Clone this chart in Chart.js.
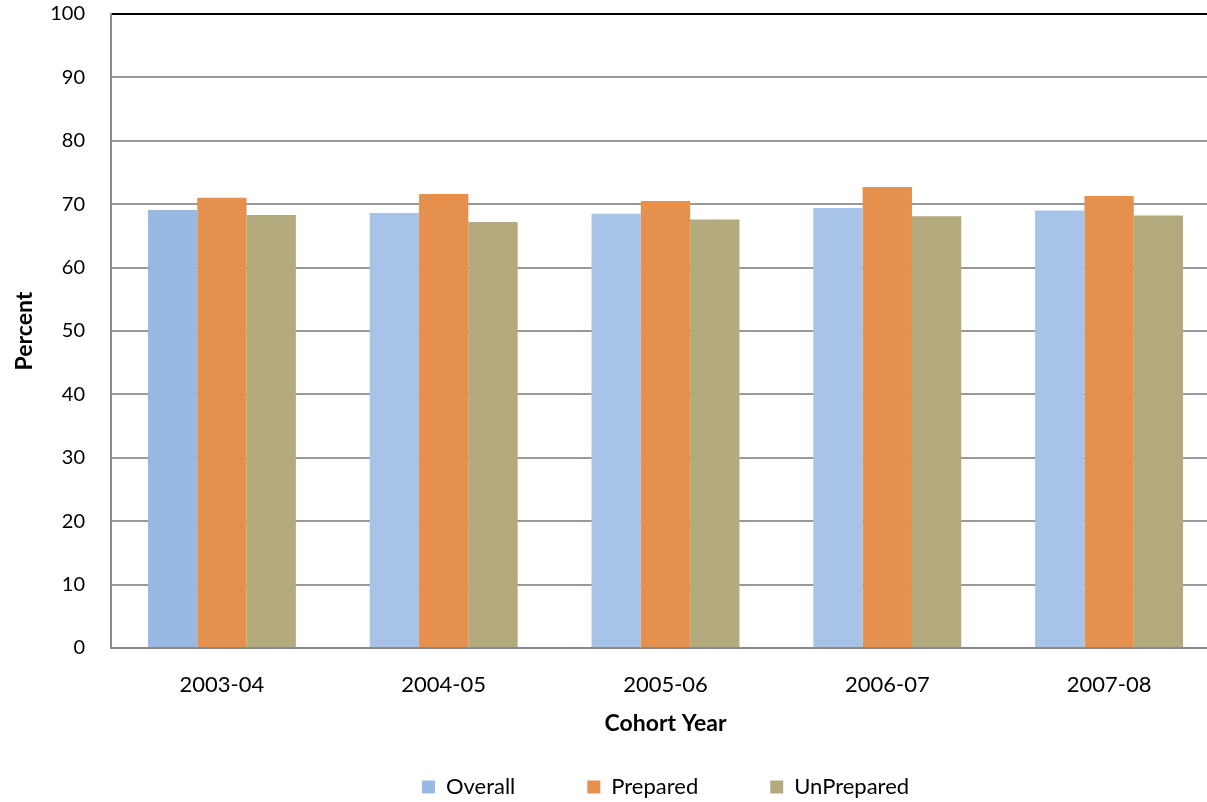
<!DOCTYPE html>
<html>
<head>
<meta charset="utf-8">
<script src="https://cdn.jsdelivr.net/npm/chart.js"></script>
<style>
  html, body { margin: 0; padding: 0; background: #fff; overflow: hidden; }
  #wrap { width: 1220px; height: 802px; }
</style>
</head>
<body>
<div id="wrap"><canvas id="cohortChart" width="1220" height="802"></canvas></div>
<script>
// values
const cohortYears = ['2003-04', '2004-05', '2005-06', '2006-07', '2007-08'];
const overall = [69.1, 68.6, 68.5, 69.4, 69.0];
const prepared = [71.0, 71.6, 70.5, 72.7, 71.3];
const unprepared = [68.3, 67.2, 67.6, 68.1, 68.2];
const yTicks = [0, 10, 20, 30, 40, 50, 60, 70, 80, 90, 100];

const FONT = 'Lato, "Open Sans", sans-serif';

// legend spacing is wide horizontally, so move it down after layout
const legendPlace = {
    id: 'legendPlace',
    afterLayout(chart) {
        const lg = chart.legend;
        const pad = chart.options.plugins.legend.labels.padding;
        lg.top = 787 - 11 - pad;
    }
};

const ctx = document.getElementById('cohortChart').getContext('2d');
const cohortChart = new Chart(ctx, {
    type: 'bar',
    data: {
        labels: cohortYears,
        datasets: [{
            label: 'Overall',
            data: overall,
            backgroundColor: ['#97b9e3', '#a7c4e8', '#a7c4e8', '#a7c4e8', '#a7c4e8'],
        }, {
            label: 'Prepared',
            data: prepared,
            backgroundColor: '#e5914d',
        }, {
            label: 'UnPrepared',
            data: unprepared,
            backgroundColor: '#b3ab7d',
        }]
    },
    options: {
        responsive: false,
        animation: false,
        layout: { padding: { top: 14, left: 0, right: 0, bottom: 0 } },
        datasets: {
            bar: { categoryPercentage: 0.667, barPercentage: 1.0 }
        },
        scales: {
            x: {
                grid: { display: false, drawTicks: false },
                border: { display: true, color: '#8a8a8a', width: 2 },
                ticks: { color: '#000', font: { family: FONT, size: 22 }, padding: 24 },
                title: {
                    display: true,
                    text: 'Cohort Year',
                    color: '#000',
                    font: { family: FONT, size: 23, weight: 'bold' },
                    padding: { top: 0, bottom: 35 }
                },
                afterFit: (scale) => { scale.height = 124; }
            },
            y: {
                min: 0,
                max: 100,
                afterBuildTicks: (scale) => { scale.ticks = yTicks.map(v => ({ value: v })); },
                grid: {
                    drawTicks: false,
                    color: (c) => c.tick && c.tick.value === 100 ? '#000' : '#999',
                    lineWidth: 2
                },
                border: { display: true, color: '#8a8a8a', width: 2 },
                ticks: { color: '#000', font: { family: FONT, size: 20 }, padding: 26 },
                title: {
                    display: true,
                    text: 'Percent',
                    color: '#000',
                    font: { family: FONT, size: 23, weight: 'bold' },
                    padding: { top: 11, bottom: 0 }
                },
                afterFit: (scale) => {
                    scale.width = 111;
                    // tick padding would otherwise push the plot top down
                    scale.paddingTop = 12;
                    scale.paddingBottom = 12;
                }
            }
        },
        plugins: {
            legend: {
                position: 'bottom',
                fullSize: false,
                maxHeight: 30,
                labels: {
                    color: '#000',
                    font: { family: FONT, size: 22 },
                    boxWidth: 13,
                    boxHeight: 13,
                    padding: 72
                }
            },
            tooltip: { enabled: false }
        }
    },
    plugins: [legendPlace]
});
</script>
</body>
</html>
